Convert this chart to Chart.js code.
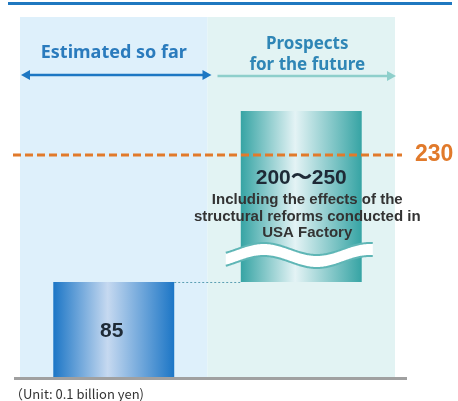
<!DOCTYPE html>
<html>
<head>
<meta charset="utf-8">
<script src="https://cdn.jsdelivr.net/npm/chart.js@4/dist/chart.umd.min.js"></script>
<style>
  html, body { margin: 0; padding: 0; background: #ffffff; }
  #wrap { width: 458px; height: 401px; position: relative; }
</style>
</head>
<body>
<div id="wrap"><canvas id="c" width="458" height="401"></canvas></div>
<script>
// ---- data ----
const categories = ['Estimated so far', ['Prospects', 'for the future']];
const actualValue = 85;
const prospectRange = [200, 250];
const targetValue = 230;
const prospectNote = ['Including the effects of the', 'structural reforms conducted in', 'USA Factory'];
const unitLabel = '（Unit: 0.1 billion yen)';

// ---- broken (piecewise) value axis ----
const knotValues = [0, actualValue, prospectRange[0], prospectRange[1]];
const knotFracs = [0, 0.3596, 0.588, 1];
class BrokenScale extends Chart.LinearScale {
  getPixelForValue(v) {
    let f;
    if (v <= knotValues[0]) f = 0;
    else if (v >= knotValues[knotValues.length - 1]) f = 1;
    else {
      for (let i = 1; i < knotValues.length; i++) {
        if (v <= knotValues[i]) {
          const t = (v - knotValues[i - 1]) / (knotValues[i] - knotValues[i - 1]);
          f = knotFracs[i - 1] + t * (knotFracs[i] - knotFracs[i - 1]);
          break;
        }
      }
    }
    return this.getPixelForDecimal(f);
  }
  getValueForPixel(p) {
    const f = this.getDecimalForPixel(p);
    for (let i = 1; i < knotFracs.length; i++) {
      if (f <= knotFracs[i]) {
        const t = (f - knotFracs[i - 1]) / (knotFracs[i] - knotFracs[i - 1]);
        return knotValues[i - 1] + t * (knotValues[i] - knotValues[i - 1]);
      }
    }
    return knotValues[knotValues.length - 1];
  }
}
BrokenScale.id = 'broken';
BrokenScale.defaults = Chart.LinearScale.defaults;
Chart.register(BrokenScale);

const BAR_FRACTION = 0.645;
const gradStops = [
  ['#1c76c6', '#c6d9f0', '#1c76c6'],
  ['#36a4a4', '#e4f3f5', '#36a4a4']
];

function barFill(c) {
  const chart = c.chart;
  const ca = chart.chartArea;
  const stops = gradStops[c.dataIndex] || gradStops[0];
  if (!ca) return stops[0];
  const xs = chart.scales.x;
  const cx = xs.getPixelForValue(c.dataIndex);
  const w = (ca.right - ca.left) / categories.length * BAR_FRACTION;
  const g = chart.ctx.createLinearGradient(cx - w / 2, 0, cx + w / 2, 0);
  g.addColorStop(0, stops[0]);
  g.addColorStop(0.45, stops[1]);
  g.addColorStop(1, stops[2]);
  return g;
}

function arrowHead(ctx, x, y, dir, color) {
  ctx.fillStyle = color;
  ctx.beginPath();
  ctx.moveTo(x, y);
  ctx.lineTo(x - dir * 9, y - 5);
  ctx.lineTo(x - dir * 9, y + 5);
  ctx.closePath();
  ctx.fill();
}

const decor = {
  id: 'decor',
  beforeDraw(chart) {
    const ctx = chart.ctx;
    const ca = chart.chartArea;
    const xs = chart.scales.x;
    const mid = (xs.getPixelForValue(0) + xs.getPixelForValue(1)) / 2;
    const panelTop = 17;
    ctx.save();
    // top rule
    ctx.fillStyle = '#1f78c0';
    ctx.fillRect(8, 2, 444, 3);
    // panels
    ctx.fillStyle = '#def0fb';
    ctx.fillRect(ca.left, panelTop, mid - ca.left, ca.bottom - panelTop);
    ctx.fillStyle = '#e2f3f3';
    ctx.fillRect(mid, panelTop, ca.right - mid, ca.bottom - panelTop);
    // headers
    ctx.textAlign = 'center';
    ctx.textBaseline = 'middle';
    ctx.font = 'bold 18px "Noto Sans", "DejaVu Sans", sans-serif';
    ctx.fillStyle = '#2a7bbd';
    ctx.fillText(categories[0], (ca.left + mid) / 2, 53);
    ctx.fillStyle = '#2f86b6';
    ctx.font = 'bold 17px "Noto Sans", "DejaVu Sans", sans-serif';
    const h2 = categories[1];
    ctx.fillText(h2[0], (mid + ca.right) / 2 + 6, 44);
    ctx.fillText(h2[1], (mid + ca.right) / 2 + 6, 65);
    // arrows
    ctx.lineWidth = 2.5;
    ctx.strokeStyle = '#1c77c3';
    ctx.beginPath();
    ctx.moveTo(ca.left + 6, 75);
    ctx.lineTo(mid - 2, 75);
    ctx.stroke();
    arrowHead(ctx, ca.left + 1, 75, -1, '#1c77c3');
    arrowHead(ctx, mid + 4, 75, 1, '#1c77c3');
    ctx.strokeStyle = '#8ecfcb';
    ctx.beginPath();
    ctx.moveTo(mid + 10, 76);
    ctx.lineTo(ca.right - 4, 76);
    ctx.stroke();
    arrowHead(ctx, ca.right + 1, 76, 1, '#8ecfcb');
    ctx.restore();
  },
  afterDatasetsDraw(chart) {
    const ctx = chart.ctx;
    const ca = chart.chartArea;
    const ys = chart.scales.y;
    const meta = chart.getDatasetMeta(0);
    const b1 = meta.data[0];
    const b2 = meta.data[1];
    ctx.save();

    // dotted connector from bar 1 top to bar 2 base
    const yBase = ys.getPixelForValue(actualValue);
    ctx.strokeStyle = '#5b9fb3';
    ctx.lineWidth = 1;
    ctx.setLineDash([2, 2]);
    ctx.beginPath();
    ctx.moveTo(b1.x + b1.width / 2, yBase + 0.5);
    ctx.lineTo(b2.x - b2.width / 2, yBase + 0.5);
    ctx.stroke();
    ctx.setLineDash([]);

    // break wave across bar 2
    const x0 = b2.x - b2.width / 2 - 15;
    const x1 = b2.x + b2.width / 2 + 12;
    const yc = ys.getPixelForValue(prospectRange[0]) + 28;
    const period = 106;
    const phaseX = b2.x - b2.width / 2 - 3.5;
    const amp = 6;
    const band = 13;
    const upper = [];
    for (let x = x0; x <= x1; x += 1) {
      upper.push([x, yc - amp * Math.sin(2 * Math.PI * (x - phaseX) / period)]);
    }
    ctx.fillStyle = '#ffffff';
    ctx.beginPath();
    upper.forEach((p, i) => i ? ctx.lineTo(p[0], p[1]) : ctx.moveTo(p[0], p[1]));
    for (let i = upper.length - 1; i >= 0; i--) ctx.lineTo(upper[i][0], upper[i][1] + band);
    ctx.closePath();
    ctx.fill();
    ctx.strokeStyle = '#5fb6b6';
    ctx.lineWidth = 2;
    ctx.beginPath();
    upper.forEach((p, i) => i ? ctx.lineTo(p[0], p[1]) : ctx.moveTo(p[0], p[1]));
    ctx.stroke();
    ctx.beginPath();
    upper.forEach((p, i) => i ? ctx.lineTo(p[0], p[1] + band) : ctx.moveTo(p[0], p[1] + band));
    ctx.stroke();

    // target dashed line
    const yT = ys.getPixelForValue(targetValue);
    ctx.strokeStyle = '#e17a2b';
    ctx.lineWidth = 3;
    ctx.setLineDash([8, 4]);
    ctx.beginPath();
    ctx.moveTo(13, yT);
    ctx.lineTo(402, yT);
    ctx.stroke();
    ctx.setLineDash([]);
    ctx.fillStyle = '#e17a2b';
    ctx.font = 'bold 23px "Liberation Sans", Arial, sans-serif';
    ctx.textAlign = 'left';
    ctx.textBaseline = 'middle';
    ctx.fillText(String(targetValue), 415, yT);

    // bar labels
    ctx.textAlign = 'center';
    ctx.fillStyle = '#1e2a36';
    ctx.font = 'bold 21px "Liberation Sans", Arial, sans-serif';
    ctx.fillText(String(actualValue), b1.x - 2, (b1.y + b1.base) / 2 + 1);
    ctx.font = 'bold 21px "Liberation Sans", Arial, sans-serif';
    ctx.fillText(prospectRange[0] + '〜' + prospectRange[1], b2.x, 178);
    ctx.fillStyle = '#333333';
    ctx.font = 'bold 15px "Liberation Sans", Arial, sans-serif';
    prospectNote.forEach((t, i) => ctx.fillText(t, b2.x + 6, 200 + i * 16.5));

    // baseline
    ctx.fillStyle = '#a0a0a0';
    ctx.fillRect(14, ca.bottom - 1, 393, 3);

    // unit note
    ctx.fillStyle = '#333333';
    ctx.font = '13px "Noto Sans CJK JP", "Noto Sans", sans-serif';
    ctx.textAlign = 'left';
    ctx.fillText(unitLabel, 10, 394);
    ctx.restore();
  }
};

new Chart(document.getElementById('c'), {
  type: 'bar',
  data: {
    labels: categories,
    datasets: [{
      data: [actualValue, [actualValue, prospectRange[1]]],
      backgroundColor: barFill,
      borderWidth: 0,
      barPercentage: BAR_FRACTION,
      categoryPercentage: 1
    }]
  },
  options: {
    responsive: false,
    animation: false,
    layout: { padding: { left: 20, right: 63, top: 111, bottom: 23 } },
    plugins: { legend: { display: false }, tooltip: { enabled: false }, title: { display: false } },
    scales: {
      x: { display: false, grid: { display: false } },
      y: { type: 'broken', display: false, min: 0, max: 250, grid: { display: false } }
    }
  },
  plugins: [decor]
});
</script>
</body>
</html>
